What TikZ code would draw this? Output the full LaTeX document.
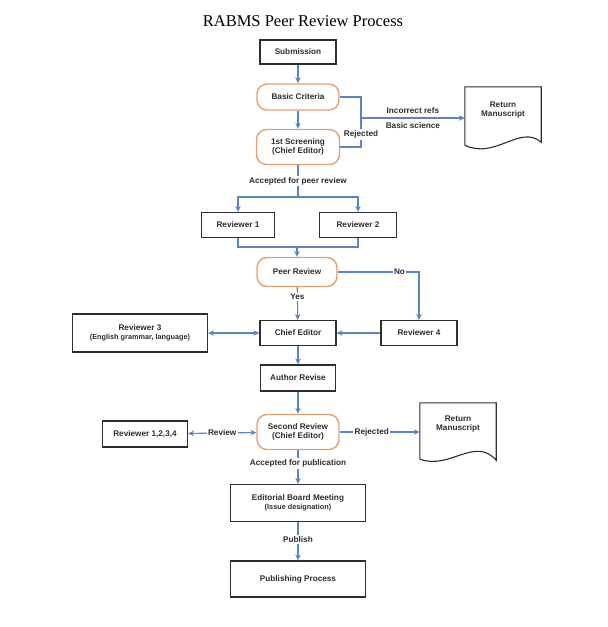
\documentclass[tikz,border=0pt]{standalone}
\usepackage{fontspec}
\setmainfont{Liberation Serif}
\setsansfont{Liberation Sans}
\usetikzlibrary{arrows.meta}
\definecolor{flowblue}{RGB}{88,134,196}
\definecolor{critorange}{RGB}{226,160,112}
\definecolor{boxgrey}{RGB}{45,45,45}
\newcommand{\subnote}[1]{{\fontsize{7.3}{8.5}\selectfont #1}}
\tikzset{
  >={Stealth[length=6pt,width=5.5pt]},
  every node/.style={font=\sffamily\bfseries\fontsize{8.2}{9.7}\selectfont, text=boxgrey, align=center},
  stagebox/.style={draw=boxgrey, line width=1.1pt, inner sep=1pt},
  checkbox/.style={draw=critorange, line width=1.4pt, rounded corners=10pt, inner sep=1pt},
  flow/.style={draw=flowblue, line width=1.1pt},
  tag/.style={fill=white, inner sep=1.5pt}
}
\begin{document}
\begin{tikzpicture}[x=1pt, y=-1pt]
    \useasboundingbox (0,0) rectangle (608,627);
    \node[font=\fontsize{16.5}{18}\selectfont, text=black] (title) at (303,21) {RABMS Peer Review Process};

    \node[stagebox, minimum width=76pt, minimum height=24pt] (sub) at (298,52) {Submission};
    \node[checkbox, minimum width=82pt, minimum height=26pt] (crit) at (298,97) {Basic Criteria};
    \node[checkbox, minimum width=83pt, minimum height=35pt] (scr) at (298,147) {1st Screening\\(Chief Editor)};
    \node[stagebox, minimum width=73pt, minimum height=25pt] (rev1) at (238,225) {Reviewer 1};
    \node[stagebox, minimum width=77pt, minimum height=25pt] (rev2) at (358,225) {Reviewer 2};
    \node[checkbox, minimum width=80pt, minimum height=29pt] (peer) at (297,272) {Peer Review};
    \node[stagebox, minimum width=135pt, minimum height=38pt] (rev3) at (140,333) {Reviewer 3\\[-1pt]\subnote{(English grammar, language)}};
    \node[stagebox, minimum width=76pt, minimum height=25pt] (chief) at (298,333) {Chief Editor};
    \node[stagebox, minimum width=76pt, minimum height=25pt] (rev4) at (419,333) {Reviewer 4};
    \node[stagebox, minimum width=75pt, minimum height=26pt] (revise) at (298,378) {Author Revise};
    \node[checkbox, minimum width=82pt, minimum height=35pt] (second) at (298,432) {Second Review\\(Chief Editor)};
    \node[stagebox, minimum width=85pt, minimum height=26pt] (revall) at (145,434) {Reviewer 1,2,3,4};
    \node[stagebox, minimum width=135pt, minimum height=37pt] (board) at (298,503) {Editorial Board Meeting\\[-1pt]\subnote{(Issue designation)}};
    \node[stagebox, minimum width=135pt, minimum height=36pt] (publishing) at (298,579) {Publishing Process};

    % return manuscript documents
    \node[minimum width=76pt, minimum height=58pt, inner sep=0pt] (ret1) at (503,116) {};
    \node (ret1text) at (503,110) {Return\\Manuscript};
    \draw[boxgrey, line width=1.1pt] (ret1.south west) -- (ret1.north west) -- (ret1.north east) -- ([yshift=3pt]ret1.south east)
        .. controls (520,124) and (495,160) .. (ret1.south west);
    \node[minimum width=76pt, minimum height=56pt, inner sep=0pt] (ret2) at (458,431) {};
    \node (ret2text) at (458,424) {Return\\Manuscript};
    \draw[boxgrey, line width=1.1pt] (ret2.south west) -- (ret2.north west) -- (ret2.north east) -- ([yshift=-1pt]ret2.south east)
        .. controls (475,436) and (450,470) .. (ret2.south west);

    \coordinate (rej) at (361,118);
    \coordinate (split) at (298,197);
    \coordinate (merge) at (297,247);

    \draw[flow, ->] (sub) -- (crit);
    \draw[flow, ->] (crit) -- (scr);
    \draw[flow] (crit.east) -| (rej);
    \draw[flow] (scr.east) -| node[tag, pos=0.72] {Rejected} (rej);
    \draw[flow, ->] (rej) -- node[above=1pt] {Incorrect refs} node[below=1pt] {Basic science} (ret1.west |- rej);
    \draw[flow] (scr) -- node[tag, pos=0.5] {Accepted for peer review} (split);
    \draw[flow, ->] (split) -| (rev1);
    \draw[flow, ->] (split) -| (rev2);
    \draw[flow] (rev1) |- (merge);
    \draw[flow] (rev2) |- (merge);
    \draw[flow, ->] (merge) -- (peer);
    \draw[flow, ->] (peer) -| node[tag, pos=0.38] {No} (rev4);
    \draw[flow, ->] (peer) -- node[tag, pos=0.3] {Yes} (chief);
    \draw[flow, <->] (rev3) -- (chief);
    \draw[flow, ->] (rev4) -- (chief);
    \draw[flow, ->] (chief) -- (revise);
    \draw[flow, ->] (revise) -- (second);
    \draw[flow, <->] (revall) -- node[tag] {Review} (second);
    \draw[flow, ->] (second) -- node[tag, pos=0.4] {Rejected} (ret2.west |- second);
    \draw[flow, ->] (second) -- node[tag, pos=0.4] {Accepted for publication} (board);
    \draw[flow, ->] (board) -- node[tag, pos=0.45] {Publish} (publishing);
\end{tikzpicture}
\end{document}
